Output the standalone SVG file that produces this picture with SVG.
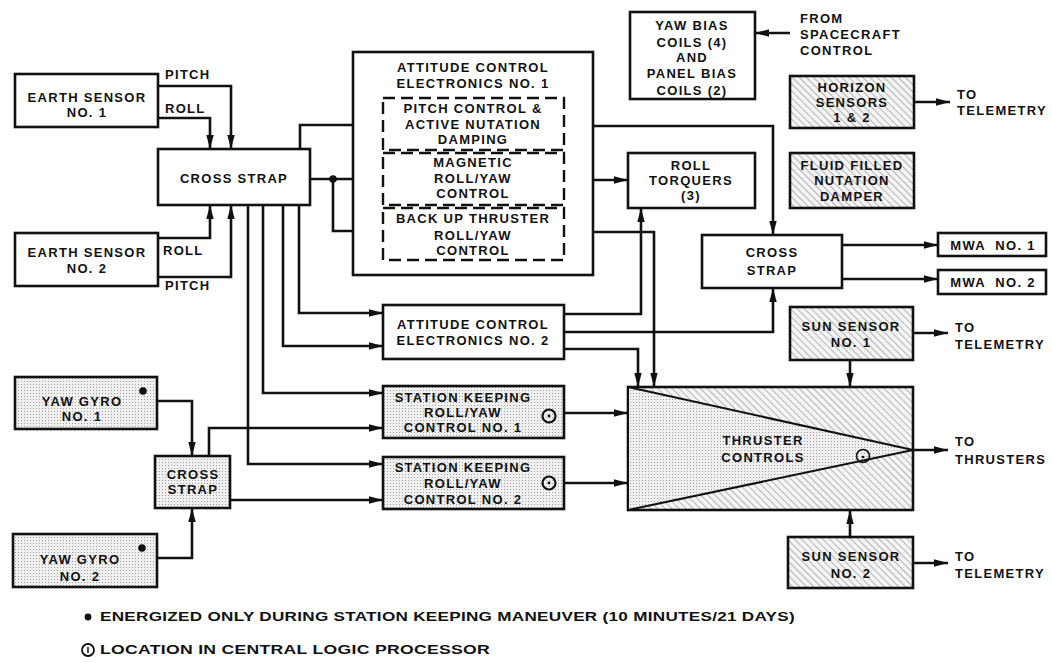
<svg xmlns="http://www.w3.org/2000/svg" width="1052" height="663" viewBox="0 0 1052 663">
<defs>
<pattern id="hatch" width="5" height="5" patternUnits="userSpaceOnUse" patternTransform="rotate(-45)">
<rect width="5" height="5" fill="#f4f4f4"/>
<line x1="0" y1="0" x2="0" y2="5" stroke="#8a8a8a" stroke-width="1.2"/>
</pattern>
<pattern id="dots" width="3" height="3" patternUnits="userSpaceOnUse">
<rect width="3" height="3" fill="#f0f0f0"/>
<rect width="1" height="1" fill="#a0a0a0"/>
</pattern>
<marker id="arr" markerUnits="userSpaceOnUse" markerWidth="14" markerHeight="9" refX="14" refY="4.5" orient="auto">
<path d="M0,0.8 L14,4.5 L0,8.2 z" fill="#111"/>
</marker>
<style>
.box{fill:#fff;stroke:#111;stroke-width:2.6}
.hb{fill:url(#hatch);stroke:#111;stroke-width:2.6}
.db{fill:url(#dots);stroke:#111;stroke-width:2.6}
.dash{fill:none;stroke:#111;stroke-width:2.4;stroke-dasharray:12 6}
.ln{fill:none;stroke:#111;stroke-width:2.6;marker-end:url(#arr)}
text{font-family:"Liberation Sans",Arial,sans-serif;font-weight:bold;font-size:13px;fill:#111;letter-spacing:1.3px;text-anchor:middle}
.l{text-anchor:start}
.lg{font-size:12px;letter-spacing:0.2px;text-anchor:start}
</style>
</defs>

<g id="connectors">
<path class="ln" d="M158,86 H231 V149"/>
<path class="ln" d="M158,118 H210 V149"/>
<path class="ln" d="M158,238 H210 V205"/>
<path class="ln" d="M158,277 H231 V205"/>
<path class="ln" d="M300,149 V125 H383"/>
<path class="ln" d="M310,179 H383"/>
<circle cx="333" cy="179" r="3.8" fill="#111"/>
<path class="ln" d="M333,179 V231 H383"/>
<path class="ln" d="M564,126 H773 V235"/>
<path class="ln" d="M564,180 H628"/>
<path class="ln" d="M564,232 H654 V387"/>
<path class="ln" d="M299,205 V313 H383"/>
<path class="ln" d="M283,205 V346 H383"/>
<path class="ln" d="M263,205 V393 H383"/>
<path class="ln" d="M248,205 V464 H383"/>
<path class="ln" d="M157,401 H192 V456"/>
<path class="ln" d="M157,558 H192 V508"/>
<path class="ln" d="M209,456 V428 H383"/>
<path class="ln" d="M230,500 H383"/>
<path class="ln" d="M564,314 H641 V208"/>
<path class="ln" d="M564,332 H773 V288"/>
<path class="ln" d="M564,349 H638 V387"/>
<path class="ln" d="M842,245 H938"/>
<path class="ln" d="M842,279 H938"/>
<path class="ln" d="M913,333 H948"/>
<path class="ln" d="M850,360 V387"/>
<path class="ln" d="M913,450 H948"/>
<path class="ln" d="M850,537 V510"/>
<path class="ln" d="M913,563 H948"/>
<path class="ln" d="M914,102 H950"/>
<path class="ln" d="M790,33 H755"/>
<path class="ln" d="M564,413 H628"/>
<path class="ln" d="M564,483 H628"/>
<text class="l" x="165" y="79">PITCH</text>
<text class="l" x="165" y="113">ROLL</text>
<text class="l" x="163" y="255">ROLL</text>
<text class="l" x="165" y="290">PITCH</text>
<text class="l" x="800" y="23">FROM</text>
<text class="l" x="800" y="39">SPACECRAFT</text>
<text class="l" x="800" y="55">CONTROL</text>
<text class="l" x="957" y="99">TO</text>
<text class="l" x="957" y="115">TELEMETRY</text>
<text class="l" x="955" y="332">TO</text>
<text class="l" x="955" y="349">TELEMETRY</text>
<text class="l" x="955" y="446">TO</text>
<text class="l" x="955" y="464">THRUSTERS</text>
<text class="l" x="955" y="561">TO</text>
<text class="l" x="955" y="578">TELEMETRY</text>
</g>

<g id="earth1">
<rect class="box" x="15" y="74" width="143" height="53"/>
<text x="87" y="102">EARTH SENSOR</text>
<text x="87" y="117">NO. 1</text>
</g>
<g id="earth2">
<rect class="box" x="15" y="233" width="143" height="53"/>
<text x="87" y="257">EARTH SENSOR</text>
<text x="87" y="273">NO. 2</text>
</g>
<g id="crossstrap1">
<rect class="box" x="158" y="149" width="152" height="56"/>
<text x="234" y="183">CROSS STRAP</text>
</g>

<g id="ace1">
<rect class="box" x="353" y="52" width="240" height="223"/>
<text x="473" y="72">ATTITUDE CONTROL</text>
<text x="473" y="88">ELECTRONICS NO. 1</text>
</g>
<g id="pitchctl">
<rect class="dash" x="383" y="98" width="181" height="52"/>
<text x="473" y="113">PITCH CONTROL &amp;</text>
<text x="473" y="129">ACTIVE NUTATION</text>
<text x="473" y="144">DAMPING</text>
</g>
<g id="magctl">
<rect class="dash" x="383" y="153" width="181" height="52"/>
<text x="473" y="167">MAGNETIC</text>
<text x="473" y="183">ROLL/YAW</text>
<text x="473" y="198">CONTROL</text>
</g>
<g id="backup">
<rect class="dash" x="383" y="208" width="181" height="52"/>
<text x="473" y="223">BACK UP THRUSTER</text>
<text x="473" y="240">ROLL/YAW</text>
<text x="473" y="255">CONTROL</text>
</g>

<g id="ace2">
<rect class="box" x="383" y="305" width="181" height="54"/>
<text x="473" y="329">ATTITUDE CONTROL</text>
<text x="473" y="345">ELECTRONICS NO. 2</text>
</g>
<g id="sk1">
<rect class="db" x="383" y="386" width="181" height="52"/>
<text x="463" y="402">STATION KEEPING</text>
<text x="463" y="417">ROLL/YAW</text>
<text x="463" y="432">CONTROL NO. 1</text>
<circle cx="549" cy="416" r="6.5" fill="none" stroke="#111" stroke-width="2.2"/>
<circle cx="549" cy="416" r="1.4" fill="#111"/>
</g>
<g id="sk2">
<rect class="db" x="383" y="457" width="181" height="52"/>
<text x="463" y="472">STATION KEEPING</text>
<text x="463" y="488">ROLL/YAW</text>
<text x="463" y="504">CONTROL NO. 2</text>
<circle cx="549" cy="483" r="6.5" fill="none" stroke="#111" stroke-width="2.2"/>
<circle cx="549" cy="483" r="1.4" fill="#111"/>
</g>

<g id="yawgyro1">
<rect class="db" x="15" y="377" width="142" height="52"/>
<text x="82" y="406">YAW GYRO</text>
<text x="82" y="421">NO. 1</text>
<circle cx="143" cy="391" r="3.8" fill="#111"/>
</g>
<g id="yawgyro2">
<rect class="db" x="13" y="534" width="144" height="53"/>
<text x="80" y="564">YAW GYRO</text>
<text x="80" y="581">NO. 2</text>
<circle cx="142" cy="548" r="3.8" fill="#111"/>
</g>
<g id="crossstrap2">
<rect class="db" x="155" y="456" width="75" height="52"/>
<text x="193" y="479">CROSS</text>
<text x="193" y="494">STRAP</text>
</g>

<g id="yawbias">
<rect class="box" x="630" y="12" width="125" height="87"/>
<text x="692" y="30">YAW BIAS</text>
<text x="692" y="47">COILS (4)</text>
<text x="692" y="62">AND</text>
<text x="692" y="78">PANEL BIAS</text>
<text x="692" y="95">COILS (2)</text>
</g>
<g id="rolltorquers">
<rect class="box" x="628" y="153" width="127" height="55"/>
<text x="691" y="170">ROLL</text>
<text x="691" y="185">TORQUERS</text>
<text x="691" y="200">(3)</text>
</g>
<g id="horizon">
<rect class="hb" x="790" y="76" width="124" height="52"/>
<text x="852" y="92">HORIZON</text>
<text x="852" y="107">SENSORS</text>
<text x="852" y="122">1 &amp; 2</text>
</g>
<g id="damper">
<rect class="hb" x="790" y="153" width="124" height="55"/>
<text x="852" y="170">FLUID FILLED</text>
<text x="852" y="185">NUTATION</text>
<text x="852" y="201">DAMPER</text>
</g>
<g id="crossstrap3">
<rect class="box" x="702" y="235" width="140" height="53"/>
<text x="772" y="257">CROSS</text>
<text x="772" y="275">STRAP</text>
</g>
<g id="mwa1">
<rect class="box" x="938" y="233" width="108" height="23"/>
<text x="993" y="250" style="white-space:pre">MWA  NO. 1</text>
</g>
<g id="mwa2">
<rect class="box" x="938" y="270" width="108" height="24"/>
<text x="993" y="287" style="white-space:pre">MWA  NO. 2</text>
</g>
<g id="sunsensor1">
<rect class="hb" x="790" y="307" width="123" height="53"/>
<text x="851" y="331">SUN SENSOR</text>
<text x="851" y="347">NO. 1</text>
</g>
<g id="thruster">
<rect class="hb" x="628" y="387" width="285" height="123"/>
<polygon points="628,387 913,450 628,510" fill="url(#dots)" stroke="#111" stroke-width="2"/>
<text x="763" y="445">THRUSTER</text>
<text x="763" y="462">CONTROLS</text>
<circle cx="863" cy="456" r="6.5" fill="none" stroke="#111" stroke-width="1.6"/>
<circle cx="863" cy="457" r="1.3" fill="#111"/>
</g>
<g id="sunsensor2">
<rect class="hb" x="788" y="537" width="125" height="51"/>
<text x="851" y="561">SUN SENSOR</text>
<text x="851" y="578">NO. 2</text>
</g>

<g id="legend">
<circle cx="88" cy="617" r="3.4" fill="#111"/>
<text class="lg" x="100" y="621" textLength="695" lengthAdjust="spacingAndGlyphs">ENERGIZED ONLY DURING STATION KEEPING MANEUVER (10 MINUTES/21 DAYS)</text>
<circle cx="88" cy="650" r="6" fill="none" stroke="#111" stroke-width="1.8"/>
<line x1="88" y1="647" x2="88" y2="653" stroke="#111" stroke-width="1.5"/>
<text class="lg" x="100" y="654" textLength="390" lengthAdjust="spacingAndGlyphs">LOCATION IN CENTRAL LOGIC PROCESSOR</text>
</g>
</svg>
